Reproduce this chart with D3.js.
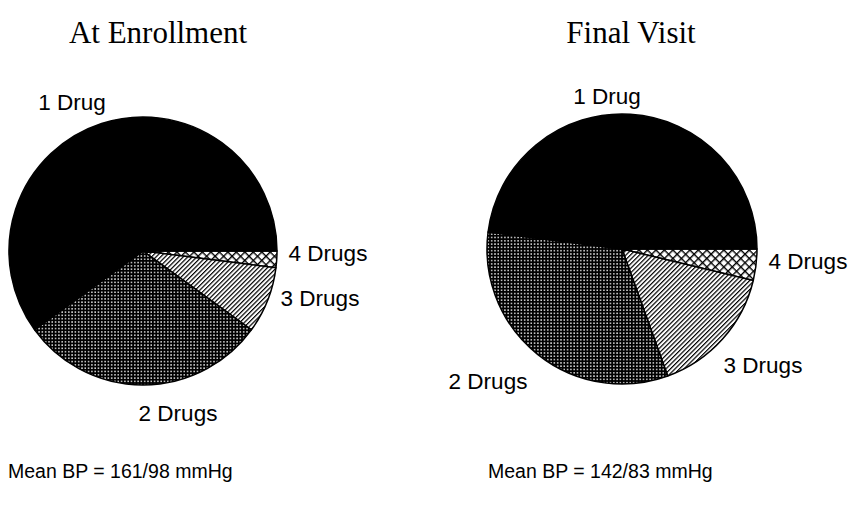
<!DOCTYPE html>
<html>
<head>
<meta charset="utf-8">
<script src="https://cdn.jsdelivr.net/npm/d3@7"></script>
<style>
  html, body { margin: 0; padding: 0; background: #fff; }
  svg { display: block; }
</style>
</head>
<body>
<svg id="chart" width="852" height="508"></svg>
<script>
// Antihypertensive drug count, share of patients (%)
const categories = ["4 Drugs", "3 Drugs", "2 Drugs", "1 Drug"];
const enrollmentShares = [2, 8, 30, 60];
const finalVisitShares = [3.75, 15.75, 32.5, 48];
const panelTitles = ["At Enrollment", "Final Visit"];
const meanBP = ["Mean BP = 161/98 mmHg", "Mean BP = 142/83 mmHg"];

// Panel geometry and label placement (offsets from pie centre, text centre)
const panels = [
  { values: enrollmentShares, cx: 143, cy: 251, r: 134, titleX: 158, titleY: 43, noteX: 8,
    labels: { "1 Drug": [-71, -149], "2 Drugs": [35, 162], "3 Drugs": [177, 47], "4 Drugs": [185, 2] } },
  { values: finalVisitShares, cx: 622, cy: 249, r: 135, titleX: 631, titleY: 43, noteX: 488,
    labels: { "1 Drug": [-15, -153], "2 Drugs": [-134, 132], "3 Drugs": [141, 116], "4 Drugs": [186, 12] } }
];

const svg = d3.select("#chart");
const defs = svg.append("defs");

// 2 Drugs: dense dark dot screen
const pDots = defs.append("pattern").attr("id", "p-dots")
  .attr("patternUnits", "userSpaceOnUse").attr("width", 3.3).attr("height", 3.3);
pDots.append("rect").attr("width", 3.3).attr("height", 3.3).attr("fill", "#000");
pDots.append("rect").attr("x", 1).attr("y", 1).attr("width", 1.4).attr("height", 1.4).attr("fill", "#fff");

// 3 Drugs: fine diagonal hatch
const pHatch = defs.append("pattern").attr("id", "p-hatch")
  .attr("patternUnits", "userSpaceOnUse").attr("width", 3.2).attr("height", 3.2)
  .attr("patternTransform", "rotate(-45)");
pHatch.append("rect").attr("width", 3.2).attr("height", 3.2).attr("fill", "#fff");
pHatch.append("rect").attr("width", 3.2).attr("height", 1.2).attr("fill", "#000");

// 4 Drugs: open cross-hatch
const pCross = defs.append("pattern").attr("id", "p-cross")
  .attr("patternUnits", "userSpaceOnUse").attr("width", 6).attr("height", 6)
  .attr("patternTransform", "rotate(45)");
pCross.append("rect").attr("width", 6).attr("height", 6).attr("fill", "#fff");
pCross.append("rect").attr("width", 6).attr("height", 1.4).attr("fill", "#000");
pCross.append("rect").attr("width", 1.4).attr("height", 6).attr("fill", "#000");

const fills = d3.scaleOrdinal()
  .domain(categories)
  .range(["url(#p-cross)", "url(#p-hatch)", "url(#p-dots)", "#000"]);

// Slices run clockwise from 3 o'clock
const pie = d3.pie().sort(null)
  .startAngle(Math.PI / 2).endAngle(Math.PI / 2 + 2 * Math.PI);

panels.forEach((p, i) => {
  const rows = categories.map((c, k) => ({ cat: c, value: p.values[k] }));
  const arc = d3.arc().innerRadius(0).outerRadius(p.r);
  const g = svg.append("g").attr("transform", `translate(${p.cx},${p.cy})`);

  g.selectAll("path.slice").data(pie.value(d => d.value)(rows)).join("path")
    .attr("class", "slice")
    .attr("d", arc)
    .attr("fill", d => fills(d.data.cat))
    .attr("stroke", "#000")
    .attr("stroke-width", 1.5)
    .attr("stroke-linejoin", "round");

  g.selectAll("text.lbl").data(rows).join("text")
    .attr("class", "lbl")
    .attr("x", d => p.labels[d.cat][0])
    .attr("y", d => p.labels[d.cat][1])
    .attr("text-anchor", "middle")
    .attr("dominant-baseline", "central")
    .attr("font-family", "'Liberation Sans', Arial, sans-serif")
    .attr("font-size", 22.5)
    .attr("fill", "#000")
    .text(d => d.cat);

  svg.append("text")
    .attr("x", p.titleX).attr("y", p.titleY)
    .attr("text-anchor", "middle")
    .attr("font-family", "'Liberation Serif', 'Times New Roman', serif")
    .attr("font-size", 31)
    .attr("fill", "#000")
    .text(panelTitles[i]);

  svg.append("text")
    .attr("x", p.noteX).attr("y", 478)
    .attr("font-family", "'Liberation Sans', Arial, sans-serif")
    .attr("font-size", 19.5)
    .attr("fill", "#000")
    .text(meanBP[i]);
});
</script>
</body>
</html>
